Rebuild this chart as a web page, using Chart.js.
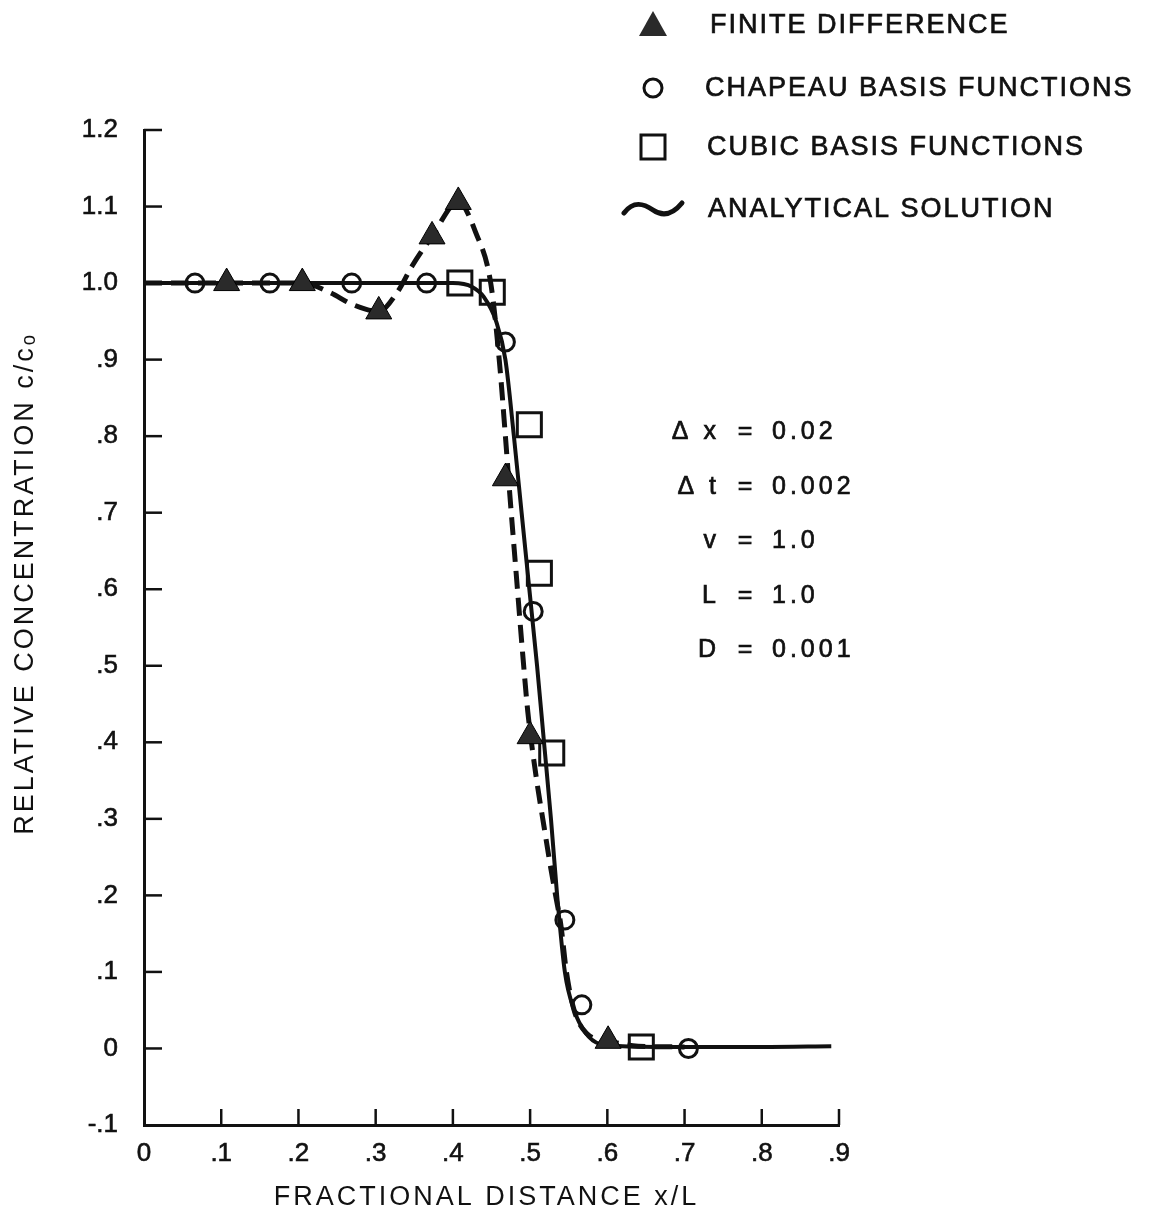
<!DOCTYPE html>
<html>
<head>
<meta charset="utf-8">
<script src="https://cdn.jsdelivr.net/npm/chart.js@4.4.1/dist/chart.umd.min.js"></script>
<style>
html,body{margin:0;padding:0;background:#fff;}
#wrap{position:relative;width:1160px;height:1217px;}
</style>
</head>
<body>
<div id="wrap"><canvas id="c" width="1160" height="1217"></canvas></div>
<script>
// ---- tick labels / titles ----
const xTickLabels = ['0', '.1', '.2', '.3', '.4', '.5', '.6', '.7', '.8', '.9'];
const yTickLabels = ['-.1', '0', '.1', '.2', '.3', '.4', '.5', '.6', '.7', '.8', '.9', '1.0', '1.1', '1.2'];
const xTitle = 'FRACTIONAL DISTANCE x/L';
const yTitle = 'RELATIVE CONCENTRATION c/cₒ';
const seriesNames = ['FINITE DIFFERENCE', 'CHAPEAU BASIS FUNCTIONS', 'CUBIC BASIS FUNCTIONS', 'ANALYTICAL SOLUTION'];
const paramNames = ['Δ x', 'Δ t', 'v', 'L', 'D'];
const paramValues = ['0.02', '0.002', '1.0', '1.0', '0.001'];

// ---- analytical solution (solid curve) ----
const analyticX = [0.0, 0.10, 0.20, 0.30, 0.40, 0.425, 0.440, 0.456, 0.468, 0.479, 0.489, 0.499, 0.509, 0.518, 0.527, 0.535, 0.545, 0.557, 0.572, 0.590, 0.620, 0.70, 0.80, 0.89];
const analyticY = [1.0, 1.0, 1.0, 1.0, 1.0, 0.995, 0.982, 0.950, 0.900, 0.800, 0.700, 0.600, 0.500, 0.400, 0.300, 0.200, 0.100, 0.050, 0.020, 0.006, 0.003, 0.002, 0.002, 0.003];

// ---- finite difference (dashed curve + triangle markers) ----
const fdCurveX = [0.0, 0.107, 0.205, 0.24, 0.27, 0.304, 0.328, 0.347, 0.373, 0.407, 0.43, 0.449, 0.460, 0.468, 0.474, 0.482, 0.490, 0.497, 0.503, 0.510, 0.518, 0.526, 0.533, 0.540, 0.547, 0.557, 0.573, 0.601, 0.64, 0.70];
const fdCurveY = [1.0, 1.0, 1.0, 0.988, 0.972, 0.963, 0.988, 1.022, 1.061, 1.106, 1.065, 1.0, 0.90, 0.80, 0.72, 0.62, 0.52, 0.44, 0.39, 0.34, 0.29, 0.24, 0.20, 0.16, 0.10, 0.05, 0.02, 0.01, 0.003, 0.002];
const fdX = [0.107, 0.205, 0.304, 0.373, 0.407, 0.468, 0.500, 0.601];
const fdY = [1.0, 1.0, 0.963, 1.061, 1.106, 0.745, 0.408, 0.010];

// ---- chapeau basis functions (circles) ----
const chapX = [0.066, 0.163, 0.269, 0.366, 0.468, 0.504, 0.545, 0.567, 0.705];
const chapY = [1.0, 1.0, 1.0, 1.0, 0.923, 0.571, 0.168, 0.057, 0.0];

// ---- cubic basis functions (squares) ----
const cubicX = [0.409, 0.451, 0.499, 0.512, 0.528, 0.644];
const cubicY = [1.0, 0.988, 0.815, 0.621, 0.386, 0.002];

const pts = (xs, ys) => xs.map((x, i) => ({x: x, y: ys[i]}));
const FONT = "'Liberation Sans', Arial, Helvetica, sans-serif";
const INK = '#111';

// letter-spaced axis titles
const _drawTitle = Chart.Scale.prototype.drawTitle;
Chart.Scale.prototype.drawTitle = function () {
  const ctx = this.ctx;
  ctx.save();
  ctx.letterSpacing = '3px';
  if (this.id === 'y') ctx.translate(0, -44);
  if (this.id === 'x') ctx.translate(-5, 0);
  _drawTitle.call(this);
  ctx.restore();
};

const innerTicks = {
  id: 'innerTicks',
  beforeDatasetsDraw(chart) {
    const ctx = chart.ctx, ca = chart.chartArea;
    const xs = chart.scales.x, ys = chart.scales.y;
    ctx.save();
    ctx.strokeStyle = INK;
    ctx.lineWidth = 2.5;
    ys.ticks.forEach((t, i) => {
      const y = ys.getPixelForTick(i);
      if (Math.abs(y - ca.bottom) < 2) return;
      ctx.beginPath(); ctx.moveTo(ca.left, y); ctx.lineTo(ca.left + 18, y); ctx.stroke();
    });
    xs.ticks.forEach((t, i) => {
      const x = xs.getPixelForTick(i);
      if (Math.abs(x - ca.left) < 2) return;
      ctx.beginPath(); ctx.moveTo(x, ca.bottom); ctx.lineTo(x, ca.bottom - 16); ctx.stroke();
    });
    ctx.restore();
  }
};

function heavyText(ctx, s, x, y) {
  ctx.fillText(s, x, y);
  ctx.strokeText(s, x, y);
}

const legendAndNotes = {
  id: 'legendAndNotes',
  afterDraw(chart) {
    const ctx = chart.ctx;
    ctx.save();
    ctx.fillStyle = INK;
    ctx.strokeStyle = INK;
    // legend markers
    const rows = [25, 88, 147, 209];
    const mx = 653;
    ctx.beginPath();
    ctx.moveTo(mx, rows[0] - 14); ctx.lineTo(mx + 14, rows[0] + 11); ctx.lineTo(mx - 14, rows[0] + 11); ctx.closePath();
    ctx.fillStyle = '#2a2a2a'; ctx.fill();
    ctx.lineWidth = 3;
    ctx.beginPath(); ctx.arc(mx, rows[1], 9, 0, Math.PI * 2); ctx.stroke();
    ctx.strokeRect(mx - 12, rows[2] - 12, 24, 24);
    ctx.lineWidth = 5; ctx.lineCap = 'round';
    ctx.beginPath();
    ctx.moveTo(624, rows[3] + 4);
    ctx.bezierCurveTo(633, rows[3] - 8, 643, rows[3] - 6, 653, rows[3] + 1);
    ctx.bezierCurveTo(663, rows[3] + 8, 673, rows[3] + 5, 682, rows[3] - 6);
    ctx.stroke();
    // legend text
    ctx.fillStyle = INK;
    ctx.lineWidth = 0.7;
    ctx.lineCap = 'butt';
    ctx.font = '27px ' + FONT;
    ctx.letterSpacing = '2px';
    ctx.textBaseline = 'middle';
    ctx.textAlign = 'left';
    const tx = [710, 705, 707, 708];
    seriesNames.forEach((s, i) => heavyText(ctx, s, tx[i], rows[i] + 1));
    // parameter notes
    ctx.font = '25px ' + FONT;
    ctx.letterSpacing = '4px';
    const ny = [432, 487, 541, 596, 650];
    paramNames.forEach((n, i) => {
      ctx.textAlign = 'right'; heavyText(ctx, n, 720, ny[i]);
      ctx.textAlign = 'center'; heavyText(ctx, '=', 747, ny[i]);
      ctx.textAlign = 'left'; heavyText(ctx, paramValues[i], 772, ny[i]);
    });
    ctx.restore();
  }
};

const tickFont = {family: FONT, size: 26};
const titleFont = {family: FONT, size: 27};

new Chart(document.getElementById('c'), {
  type: 'scatter',
  data: {
    datasets: [
      {label: seriesNames[0], data: pts(fdX, fdY), showLine: false, pointStyle: 'triangle', pointRadius: 15,
        backgroundColor: '#2a2a2a', borderColor: '#000', borderWidth: 1},
      {label: seriesNames[1], data: pts(chapX, chapY), showLine: false, pointStyle: 'circle', pointRadius: 9,
        backgroundColor: 'rgba(0,0,0,0)', borderColor: INK, borderWidth: 3},
      {label: seriesNames[2], data: pts(cubicX, cubicY), showLine: false, pointStyle: 'rect', pointRadius: 17,
        backgroundColor: 'rgba(0,0,0,0)', borderColor: INK, borderWidth: 3},
      {label: seriesNames[0] + ' curve', data: pts(fdCurveX, fdCurveY), showLine: true, pointRadius: 0,
        borderColor: INK, borderWidth: 5, borderDash: [18, 9], cubicInterpolationMode: 'monotone', fill: false},
      {label: seriesNames[3], data: pts(analyticX, analyticY), showLine: true, pointRadius: 0,
        borderColor: INK, borderWidth: 4, cubicInterpolationMode: 'monotone', fill: false}
    ]
  },
  options: {
    responsive: false,
    animation: false,
    devicePixelRatio: 1,
    layout: {padding: {top: 130, right: 321, left: 0, bottom: 0}},
    plugins: {legend: {display: false}, tooltip: {enabled: false}},
    scales: {
      x: {
        type: 'linear', min: 0, max: 0.9,
        afterFit: s => { s.height = 92; },
        ticks: {stepSize: 0.1, autoSkip: false, maxRotation: 0, padding: 13, color: INK, font: tickFont,
          textStrokeColor: INK, textStrokeWidth: 0.6,
          callback: (v, i) => xTickLabels[i]},
        grid: {drawOnChartArea: false, drawTicks: false},
        border: {display: true, color: INK, width: 3},
        title: {display: true, text: xTitle, color: INK, font: titleFont, padding: {top: 3, bottom: 3}}
      },
      y: {
        type: 'linear', min: -0.1, max: 1.2,
        afterFit: s => { s.width = 144; },
        ticks: {stepSize: 0.1, autoSkip: false, padding: 26, color: INK, font: tickFont,
          textStrokeColor: INK, textStrokeWidth: 0.6,
          callback: (v, i) => yTickLabels[i]},
        grid: {drawOnChartArea: false, drawTicks: false},
        border: {display: true, color: INK, width: 3},
        title: {display: true, text: yTitle, color: INK, font: titleFont, padding: {top: 9, bottom: 9}}
      }
    }
  },
  plugins: [innerTicks, legendAndNotes]
});
</script>
</body>
</html>
